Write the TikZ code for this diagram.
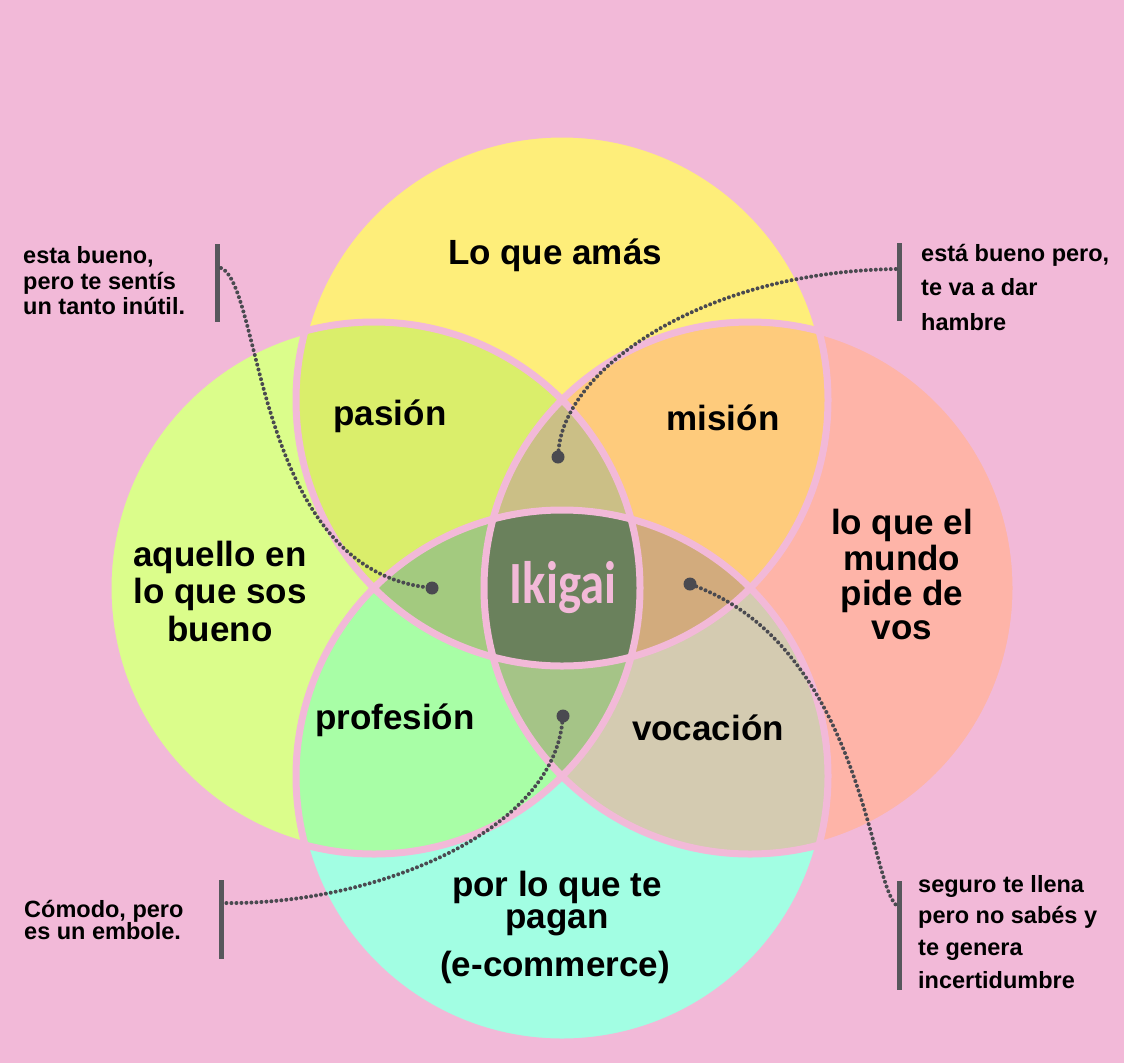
\documentclass[tikz,border=0pt]{standalone}
\usepackage{fontspec}
\setmainfont{Liberation Sans}
\newfontfamily\ikifont{Carlito}
\definecolor{bg}{HTML}{F2B9D8}
\definecolor{cTop}{HTML}{FEEE7A}
\definecolor{cLeft}{HTML}{DBFD8B}
\definecolor{cRight}{HTML}{FEB4A8}
\definecolor{cBot}{HTML}{A2FEE3}
\definecolor{cTL}{HTML}{DAEE6B}
\definecolor{cTR}{HTML}{FECB7C}
\definecolor{cLB}{HTML}{A8FEA6}
\definecolor{cRB}{HTML}{D4CBB1}
\definecolor{cTLR}{HTML}{CBBF86}
\definecolor{cTLB}{HTML}{A3CA7F}
\definecolor{cTRB}{HTML}{D2AB7D}
\definecolor{cLRB}{HTML}{A5C487}
\definecolor{cAll}{HTML}{6A815C}
\definecolor{dotc}{HTML}{4A4A50}
\definecolor{barc}{HTML}{57575C}
\tikzset{
  lbl/.style={font=\fontsize{35}{37}\selectfont\bfseries, anchor=base, inner sep=0pt, text=black},
  note/.style={font=\fontsize{23.5}{25}\selectfont\bfseries, anchor=base west, inner sep=0pt, text=black},
  barline/.style={line width=5pt, draw=barc},
  conn/.style={line width=4pt, draw=dotc, dash pattern=on 0pt off 5pt, line cap=round},
  enddot/.style={circle, fill=dotc, inner sep=0pt, minimum size=13pt},
  ring/.style={draw=bg, line width=7pt},
}
\begin{document}
\begin{tikzpicture}[x=1pt,y=-1pt]
\useasboundingbox (0,0) rectangle (1124,1063);
\fill[bg] (0,0) rectangle (1124,1063);
\def\rad{266}
\coordinate (cT) at (562,400);
\coordinate (cL) at (374,588);
\coordinate (cR) at (750,588);
\coordinate (cB) at (562,776);
% single circles
\fill[cTop] (cT) circle[radius=\rad];
\fill[cLeft] (cL) circle[radius=\rad];
\fill[cRight] (cR) circle[radius=\rad];
\fill[cBot] (cB) circle[radius=\rad];
% pairs
\begin{scope}\clip (cT) circle[radius=\rad]; \fill[cTL] (cL) circle[radius=\rad];\end{scope}
\begin{scope}\clip (cT) circle[radius=\rad]; \fill[cTR] (cR) circle[radius=\rad];\end{scope}
\begin{scope}\clip (cL) circle[radius=\rad]; \fill[cLB] (cB) circle[radius=\rad];\end{scope}
\begin{scope}\clip (cR) circle[radius=\rad]; \fill[cRB] (cB) circle[radius=\rad];\end{scope}
% triples
\begin{scope}\clip (cT) circle[radius=\rad]; \clip (cL) circle[radius=\rad]; \fill[cTLR] (cR) circle[radius=\rad];\end{scope}
\begin{scope}\clip (cT) circle[radius=\rad]; \clip (cL) circle[radius=\rad]; \fill[cTLB] (cB) circle[radius=\rad];\end{scope}
\begin{scope}\clip (cT) circle[radius=\rad]; \clip (cR) circle[radius=\rad]; \fill[cTRB] (cB) circle[radius=\rad];\end{scope}
\begin{scope}\clip (cL) circle[radius=\rad]; \clip (cR) circle[radius=\rad]; \fill[cLRB] (cB) circle[radius=\rad];\end{scope}
% all four
\begin{scope}\clip (cT) circle[radius=\rad]; \clip (cL) circle[radius=\rad]; \clip (cR) circle[radius=\rad]; \fill[cAll] (cB) circle[radius=\rad];\end{scope}
% pink outlines
\foreach \cc in {cT,cL,cR,cB} \draw[ring] (\cc) circle[radius=\rad];

% main labels
\node[lbl] (amas) at (555,264) {Lo que amás};
\node[lbl] (pasion) at (390,425) {pasión};
\node[lbl] (mision) at (723,430) {misión};
\node[lbl] (bueno1) at (220,566) {aquello en};
\node[lbl] (bueno2) at (220,603) {lo que sos};
\node[lbl] (bueno3) at (220,641) {bueno};
\node[lbl] (mundo1) at (902,534) {lo que el};
\node[lbl] (mundo2) at (902,570) {mundo};
\node[lbl] (mundo3) at (902,605) {pide de};
\node[lbl] (mundo4) at (902,639) {vos};
\node[lbl] (profesion) at (395,729) {profesión};
\node[lbl] (vocacion) at (708,740) {vocación};
\node[lbl] (pagan1) at (557,896) {por lo que te};
\node[lbl] (pagan2) at (557,928) {pagan};
\node[lbl] (pagan3) at (555,976) {(e-commerce)};
\node[anchor=base, inner sep=0pt, text=bg, font=\ikifont\bfseries\fontsize{60}{60}\selectfont] (iki) at (563,603) {\scalebox{0.81}[1]{Ikigai}};

% annotations
\node[note] (n1a) at (23,263) {esta bueno,};
\node[note] (n1b) at (23,289) {pero te sentís};
\node[note] (n1c) at (23,314) {un tanto inútil.};
\node[note] (n2a) at (921,261) {está bueno pero,};
\node[note] (n2b) at (921,295) {te va a dar};
\node[note] (n2c) at (921,330) {hambre};
\node[note] (n3a) at (24,917) {Cómodo, pero};
\node[note] (n3b) at (24,939) {es un embole.};
\node[note] (n4a) at (918,892) {seguro te llena};
\node[note] (n4b) at (918,923) {pero no sabés y};
\node[note] (n4c) at (918,955) {te genera};
\node[note] (n4d) at (918,988) {incertidumbre};

% bars
\coordinate (b1t) at (217,244); \coordinate (b1b) at (217,322);
\coordinate (b2t) at (899,243); \coordinate (b2b) at (899,321);
\coordinate (b3t) at (221,880); \coordinate (b3b) at (221,959);
\coordinate (b4t) at (899,881); \coordinate (b4b) at (899,990);
\draw[barline] (b1t) -- (b1b);
\draw[barline] (b2t) -- (b2b);
\draw[barline] (b3t) -- (b3b);
\draw[barline] (b4t) -- (b4b);
\coordinate (k1) at (221,268);
\coordinate (k2) at (896,269);
\coordinate (k3) at (224,903);
\coordinate (k4) at (896,905);

% end dots
\node[enddot] (d1) at (432,588) {};
\node[enddot] (d2) at (558,457) {};
\node[enddot] (d3) at (690,584) {};
\node[enddot] (d4) at (563,716) {};

% connectors
\draw[conn] (k1) .. controls (262,285) and (255,565) .. (d1);
\draw[conn] (d2) .. controls (565,370) and (700,272) .. (k2);
\draw[conn] (d3) .. controls (860,650) and (870,880) .. (k4);
\draw[conn] (d4) .. controls (550,835) and (370,905) .. (k3);
\end{tikzpicture}
\end{document}
